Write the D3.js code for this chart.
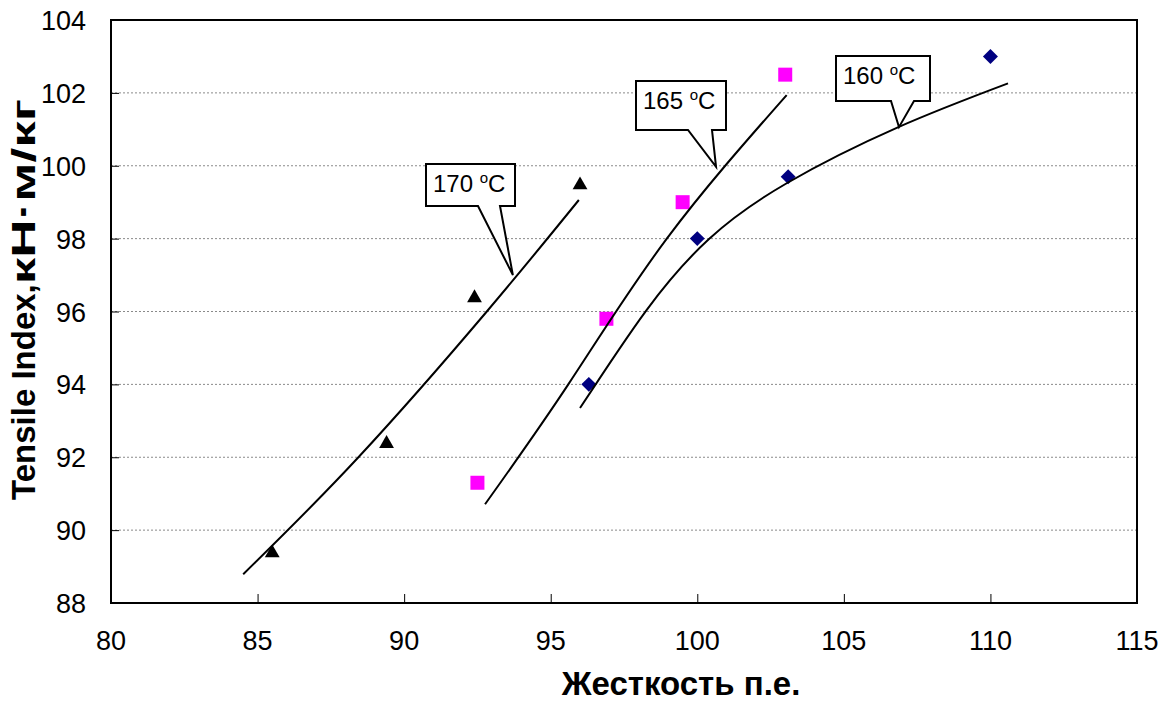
<!DOCTYPE html>
<html>
<head>
<meta charset="utf-8">
<script src="https://cdn.jsdelivr.net/npm/d3@7"></script>
<style>
  body { margin: 0; background: #fff; }
  svg { font-family: "Liberation Sans", Arial, sans-serif; }
</style>
</head>
<body>
<svg width="1171" height="702"></svg>
<script>
// ticks
var xTicks = [80, 85, 90, 95, 100, 105, 110, 115]
var yTicks = [88, 90, 92, 94, 96, 98, 100, 102, 104]

// measured points (Жесткость, Tensile Index)
var hard170 = [85.5, 89.4, 92.4, 96.0]
var tens170 = [89.4, 92.4, 96.4, 99.5]
var hard165 = [92.5, 96.9, 99.5, 103.0]
var tens165 = [91.3, 95.8, 99.0, 102.5]
var hard160 = [96.3, 100.0, 103.1, 110.0]
var tens160 = [94.0, 98.0, 99.7, 103.0]

// trend lines
var trend170X = [84.51, 88.44, 92.82, 95.96]
var trend170Y = [88.79, 92.0, 96.0, 99.06]
var trend165X = [92.76, 95.60, 98.96, 103.05]
var trend165Y = [90.71, 94.0, 98.0, 101.94]
var trend160X = [96.0, 98.27, 100.40, 103.05, 106.86, 110.60]
var trend160Y = [93.35, 96.04, 97.99, 99.52, 101.06, 102.26]

// callout labels and where they point to
var labels = ['170', '165', '160']
var tipX = [93.71, 100.64, 106.88]
var tipY = [97.0, 99.97, 101.06]

var svg = d3.select('svg')

var plotL = 111, plotR = 1137, plotT = 20, plotB = 603

var x = d3.scaleLinear().domain([80, 115]).range([plotL, plotR])
var y = d3.scaleLinear().domain([88, 104]).range([plotB, plotT])

// gridlines
svg.append('g')
    .selectAll('line')
    .data(yTicks.slice(1, -1))
    .enter()
    .append('line')
    .attr('x1', plotL)
    .attr('x2', plotR)
    .attr('y1', d => y(d))
    .attr('y2', d => y(d))
    .attr('stroke', '#8a8a8a')
    .attr('stroke-width', 1)
    .attr('stroke-dasharray', '2,2')

// axes, ticks inside
var xAxis = svg.append('g')
    .attr('transform', 'translate(0,' + plotB + ')')
    .call(d3.axisBottom(x).tickValues(xTicks).tickSizeInner(-9).tickSizeOuter(0))
xAxis.select('.domain').remove()
xAxis.selectAll('text').remove()
xAxis.selectAll('line').attr('stroke', '#000').attr('stroke-width', 1)

var yAxis = svg.append('g')
    .attr('transform', 'translate(' + plotL + ',0)')
    .call(d3.axisLeft(y).tickValues(yTicks).tickSizeInner(-8).tickSizeOuter(0))
yAxis.select('.domain').remove()
yAxis.selectAll('text').remove()
yAxis.selectAll('line').attr('stroke', '#000').attr('stroke-width', 1)

svg.append('rect')
    .attr('x', plotL)
    .attr('y', plotT)
    .attr('width', plotR - plotL)
    .attr('height', plotB - plotT)
    .attr('fill', 'none')
    .attr('stroke', '#000')
    .attr('stroke-width', 2)

// tick labels
svg.append('g')
    .selectAll('text')
    .data(xTicks)
    .enter()
    .append('text')
    .text(d => d)
    .attr('x', d => x(d))
    .attr('y', 650)
    .attr('text-anchor', 'middle')
    .style('font-size', '27px')

svg.append('g')
    .selectAll('text')
    .data(yTicks)
    .enter()
    .append('text')
    .text(d => d)
    .attr('x', 86)
    .attr('y', d => y(d) + 10)
    .attr('text-anchor', 'end')
    .style('font-size', '27px')

// axis titles
svg.append('text')
    .text('Жесткость п.е.')
    .attr('x', 681)
    .attr('y', 695)
    .attr('text-anchor', 'middle')
    .style('font-size', '33px')
    .style('font-weight', 'bold')

var yTitle = svg.append('text')
    .attr('transform', 'translate(35,0) rotate(-90)')
    .attr('x', -500)
    .attr('y', 0)
    .style('font-size', '33px')
    .style('font-weight', 'bold')
yTitle.append('tspan').text('Tensile Index,')
yTitle.append('tspan').text('кН·м/кг')
    .attr('textLength', 185)
    .attr('lengthAdjust', 'spacingAndGlyphs')

// markers
function pts(xs, ys) { return xs.map((v, i) => [v, ys[i]]) }

svg.append('g')
    .selectAll('path')
    .data(pts(hard170, tens170))
    .enter()
    .append('path')
    .attr('d', d3.symbol(d3.symbolTriangle, 95))
    .attr('transform', d => 'translate(' + x(d[0]) + ',' + (y(d[1]) + 1) + ')')
    .attr('fill', '#000')

svg.append('g')
    .selectAll('path')
    .data(pts(hard165, tens165))
    .enter()
    .append('path')
    .attr('d', d3.symbol(d3.symbolSquare, 196))
    .attr('transform', d => 'translate(' + x(d[0]) + ',' + y(d[1]) + ')')
    .attr('fill', '#FF00FF')

svg.append('g')
    .selectAll('path')
    .data(pts(hard160, tens160))
    .enter()
    .append('path')
    .attr('d', d3.symbol(d3.symbolSquare, 112))
    .attr('transform', d => 'translate(' + x(d[0]) + ',' + y(d[1]) + ') rotate(45)')
    .attr('fill', '#000080')

// trend lines
var line = d3.line()
    .x(d => x(d[0]))
    .y(d => y(d[1]))
    .curve(d3.curveNatural)

var trends = [pts(trend170X, trend170Y), pts(trend165X, trend165Y), pts(trend160X, trend160Y)]
svg.append('g')
    .selectAll('path')
    .data(trends)
    .enter()
    .append('path')
    .attr('d', line)
    .attr('fill', 'none')
    .attr('stroke', '#000')
    .attr('stroke-width', 2)

// callouts: box [x, y, w, h], pointer base [left, right]
var boxes = [[426, 164, 89, 42, 478, 500], [636, 81, 90, 49, 688, 712], [836, 56, 94, 45, 891, 914]]

labels.forEach(function (lab, i) {
    var b = boxes[i]
    var tx = x(tipX[i]), ty = y(tipY[i])
    var bx = b[0], by = b[1], bw = b[2], bh = b[3]
    var p = 'M' + bx + ',' + by + 'H' + (bx + bw) + 'V' + (by + bh) +
        'H' + b[5] + 'L' + tx + ',' + ty + 'L' + b[4] + ',' + (by + bh) +
        'H' + bx + 'Z'
    svg.append('path')
        .attr('d', p)
        .attr('fill', '#fff')
        .attr('stroke', '#000')
        .attr('stroke-width', 2)
        .attr('stroke-linejoin', 'miter')

    var t = svg.append('text')
        .attr('x', bx + 7)
        .attr('y', by + 28)
        .style('font-size', '24px')
    t.append('tspan').text(lab + ' ')
    t.append('tspan').text('o').style('font-size', '15px').attr('dy', -9)
    t.append('tspan').text('C').attr('dy', 9)
})
</script>
</body>
</html>
